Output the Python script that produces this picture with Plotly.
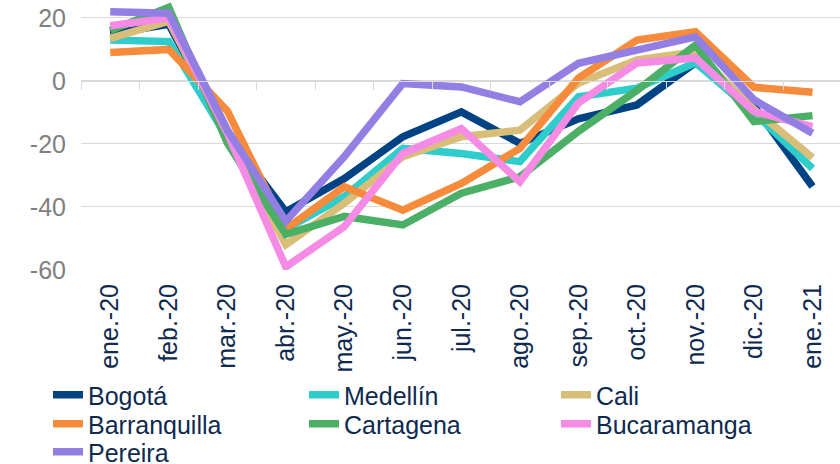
import plotly.graph_objects as go

months = ["ene.-20", "feb.-20", "mar.-20", "abr.-20", "may.-20", "jun.-20", "jul.-20",
          "ago.-20", "sep.-20", "oct.-20", "nov.-20", "dic.-20", "ene.-21"]

bogota = [15, 18, -17, -41.5, -31, -17.7, -9.8, -19.8, -12, -7.6, 5.8, -8, -33.5]
medellin = [13, 12.5, -18, -47, -36.7, -21.4, -23, -25.6, -5, -2.3, 5.8, -10, -27.8]
cali = [13.5, 19, -17, -52, -38.8, -24, -17.7, -15.6, -0.7, 6.7, 9.3, -9, -24.3]
barranquilla = [9, 10, -9.5, -47, -33.6, -41, -32.5, -21.4, 0.9, 13, 15.6, -2, -3.6]
cartagena = [16, 23.4, -19.7, -48.7, -43, -45.7, -35.6, -30.4, -16, -3, 11.4, -12.9, -11]
bucaramanga = [17.5, 20, -16.5, -59, -46.2, -23, -15.1, -32, -7, 5.7, 7.3, -9.7, -14.5]
pereira = [22, 21.5, -15.5, -44.5, -24, -0.8, -1.9, -6.6, 5.6, 9.8, 14, -6, -16.6]

y_ticks = [-60, -40, -20, 0, 20]
y_tick_labels = ["-60", "-40", "-20", "0", "20"]

series_names = ["Bogotá", "Medellín", "Cali", "Barranquilla", "Cartagena",
                "Bucaramanga", "Pereira"]
series_values = [bogota, medellin, cali, barranquilla, cartagena, bucaramanga, pereira]
series_colors = ["#004385", "#2ECDCB", "#D8BE78", "#F68B3B", "#4BAF65", "#F58BE4", "#937EE3"]

FONT = "Liberation Sans, Arial, sans-serif"
NAVY = "#0E2A4F"

# legend grid: 3 columns (text left edge px), rows (centre px)
legend_text_x = [89, 345, 597]
legend_row_y = [395, 424, 452]

fig = go.Figure()
legends = {}
for i, (name, vals, color) in enumerate(zip(series_names, series_values, series_colors)):
    lg = "legend" if i == 0 else f"legend{i + 1}"
    fig.add_trace(go.Scatter(x=months, y=vals, name=name, mode="lines", legend=lg,
                             line=dict(color=color, width=7.5)))
    col, row = i % 3, i // 3
    legends[lg] = dict(orientation="h", xref="container", yref="container",
                       x=(legend_text_x[col] - 41) / 840, y=1 - legend_row_y[row] / 464,
                       xanchor="left", yanchor="middle",
                       font=dict(family=FONT, size=25, color=NAVY),
                       bgcolor="rgba(0,0,0,0)")

# invisible trace for the axis crossing at zero
fig.add_trace(go.Scatter(x=months, y=[None] * len(months), xaxis="x2",
                         showlegend=False, hoverinfo="skip"))

ymin, ymax = -60, 25.7
fig.update_layout(
    width=840, height=464,
    margin=dict(l=81, r=0, t=0, b=194),
    plot_bgcolor="white", paper_bgcolor="white",
    font=dict(family=FONT, size=25, color=NAVY),
    xaxis=dict(type="category", categoryarray=months, range=[-0.5, 12.47],
               showgrid=False, showline=False, zeroline=False,
               tickangle=-90, ticklabelstandoff=8,
               tickfont=dict(family=FONT, size=25, color=NAVY)),
    xaxis2=dict(type="category", categoryarray=months, range=[-0.5, 12.47],
                overlaying="x", anchor="free", position=(0 - ymin) / (ymax - ymin),
                side="bottom", showline=True, linecolor="#D9D9D9", linewidth=1,
                ticks="outside", tickson="boundaries", ticklen=8, tickcolor="#D9D9D9",
                showticklabels=False, showgrid=False, zeroline=False),
    yaxis=dict(range=[ymin, ymax], tickmode="array", tickvals=y_ticks,
               ticktext=y_tick_labels, showgrid=True,
               gridcolor="#D9D9D9", gridwidth=1, zeroline=False, showline=False,
               ticklabelstandoff=14,
               tickfont=dict(family=FONT, size=25, color="#808080")),
    showlegend=True,
    **legends,
)

fig.write_html("out.html", config={"displayModeBar": False},
               post_script="document.body.style.margin='0';")
